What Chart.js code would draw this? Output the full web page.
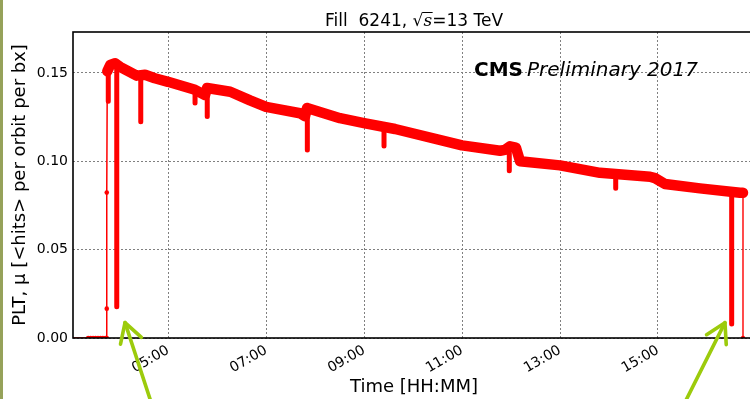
<!DOCTYPE html>
<html>
<head>
<meta charset="utf-8">
<script src="https://cdn.jsdelivr.net/npm/chart.js@4.4.1/dist/chart.umd.min.js"></script>
<style>
  html, body { margin: 0; padding: 0; background: #fff; overflow: hidden; }
  #wrap { width: 759px; height: 399px; }
</style>
</head>
<body>
<div id="wrap"><canvas id="plt-chart" width="759" height="399"></canvas></div>
<script>
// PLT mu vs time for fill 6241, time in decimal hours
const bandTimes = [3.76, 3.82, 3.92, 4.02, 4.36, 4.53, 4.73, 5.0, 5.55, 5.755, 5.796, 6.27, 6.673, 7.0, 7.694, 7.796,
  7.837, 8.51, 9.0, 9.633, 11.0, 11.776, 11.878, 11.98, 12.10, 12.184, 13.0, 13.816, 14.837, 14.939, 15.143,
  15.857, 16.673, 16.735];
const bandValues = [0.151, 0.1545, 0.1555, 0.1535, 0.1485, 0.149, 0.147, 0.145, 0.1405, 0.1375, 0.1415, 0.1394,
  0.1345, 0.1308, 0.1272, 0.1255, 0.1302, 0.1244, 0.1216, 0.1183, 0.109, 0.106, 0.1065, 0.1085, 0.1078, 0.1000,
  0.0977, 0.0935, 0.0913, 0.0905, 0.0872, 0.0847, 0.0822, 0.0822];

// short beam losses / dips
const dipTimes = [3.78, 3.953, 4.443, 5.551, 5.80, 7.843, 9.408, 11.965, 14.137, 16.504];
const dipTops = [0.152, 0.155, 0.149, 0.140, 0.139, 0.128, 0.119, 0.106, 0.0925, 0.082];
const dipBottoms = [0.134, 0.0177, 0.1224, 0.133, 0.1254, 0.1064, 0.1087, 0.0947, 0.0847, 0.0079];

// before stable beams and after the dump
const rampTimes = [3.06, 3.37, 3.42, 3.47, 3.52, 3.57, 3.62, 3.67, 3.72, 3.749, 3.749, 3.749, 3.76];
const rampValues = [0, 0, 0, 0, 0, 0, 0, 0, 0, 0, 0.0166, 0.0823, 0.151];
const dumpTimes = [16.735, 16.735];
const dumpValues = [0.0822, 0];

const xTickValues = [5, 7, 9, 11, 13, 15];
const yTickValues = [0, 0.05, 0.10, 0.15];
const arrowTips = [[4.122, 0.0087], [16.367, 0.0087]];

const toPoints = (xs, ys) => xs.map((x, i) => ({ x: x, y: ys[i] }));

const dipPoints = [];
dipTimes.forEach((t, i) => {
  dipPoints.push({ x: t, y: dipTops[i] }, { x: t, y: dipBottoms[i] }, { x: t, y: null });
});

const hhmm = v => {
  const h = Math.floor(v);
  const m = Math.round((v - h) * 60);
  return String(h).padStart(2, '0') + ':' + String(m).padStart(2, '0');
};

const RED = '#ff0000';
const FONT = '"DejaVu Sans", sans-serif';

const decor = {
  id: 'decor',
  beforeDraw(chart) {
    const ctx = chart.ctx;
    ctx.save();
    ctx.fillStyle = '#fff';
    ctx.fillRect(0, 0, chart.width, chart.height);
    ctx.restore();
  },
  afterDraw(chart) {
    const ctx = chart.ctx;
    const a = chart.chartArea;
    const xs = chart.scales.x, ys = chart.scales.y;
    ctx.save();

    // axes frame
    ctx.strokeStyle = '#000';
    ctx.lineWidth = 1.6;
    ctx.strokeRect(a.left, a.top, a.right - a.left, a.bottom - a.top);

    // title: Fill 6241, sqrt(s)=13 TeV
    ctx.fillStyle = '#000';
    ctx.textBaseline = 'alphabetic';
    ctx.textAlign = 'left';
    const parts = [
      { t: 'Fill  6241, ', f: '17px ' + FONT },
      { t: '\u221A', f: '17px ' + FONT },
      { t: 's', f: 'italic 17px "DejaVu Serif", serif', bar: true },
      { t: '=13 TeV', f: '17px ' + FONT }
    ];
    let total = 0;
    parts.forEach(p => { ctx.font = p.f; p.w = ctx.measureText(p.t).width; total += p.w; });
    let tx = (a.left + a.right) / 2 - total / 2;
    const ty = 26;
    parts.forEach(p => {
      ctx.font = p.f;
      ctx.fillText(p.t, tx, ty);
      if (p.bar) {
        ctx.lineWidth = 1;
        ctx.strokeStyle = '#000';
        ctx.beginPath();
        ctx.moveTo(tx - 1, ty - 13.5);
        ctx.lineTo(tx + p.w + 0.5, ty - 13.5);
        ctx.stroke();
      }
      tx += p.w;
    });

    // CMS Preliminary 2017
    const cx = a.left + (a.right - a.left) * 0.588;
    const cy = a.top + 44;
    ctx.font = 'bold 20px ' + FONT;
    ctx.fillText('CMS', cx, cy);
    const cw = ctx.measureText('CMS').width;
    ctx.font = 'italic 20px ' + FONT;
    ctx.fillText('Preliminary 2017', cx + cw + 4, cy);

    // green arrows pointing at the two big drops
    ctx.strokeStyle = '#9ccb0c';
    ctx.lineWidth = 3.6;
    ctx.lineCap = 'round';
    ctx.lineJoin = 'round';
    const tails = [[0.311, 0.950], [-0.449, 0.894]];
    arrowTips.forEach((tip, i) => {
      const px = xs.getPixelForValue(tip[0]);
      const py = ys.getPixelForValue(tip[1]);
      const d = tails[i];
      ctx.beginPath();
      ctx.moveTo(px, py);
      ctx.lineTo(px + d[0] * 120, py + d[1] * 120);
      ctx.stroke();
      const L = 22, c = Math.cos(Math.PI / 6), s = Math.sin(Math.PI / 6);
      ctx.beginPath();
      ctx.moveTo(px + L * (d[0] * c - d[1] * s), py + L * (d[0] * s + d[1] * c));
      ctx.lineTo(px, py);
      ctx.lineTo(px + L * (d[0] * c + d[1] * s), py + L * (-d[0] * s + d[1] * c));
      ctx.stroke();
    });

    // olive strip on the left edge
    ctx.fillStyle = '#96a25a';
    ctx.fillRect(0, 0, 3, chart.height);
    ctx.restore();
  }
};

const ctx = document.getElementById('plt-chart');
new Chart(ctx, {
  type: 'line',
  data: {
    datasets: [
      {
        label: 'dump',
        data: toPoints(dumpTimes, dumpValues),
        borderColor: RED,
        backgroundColor: RED,
        borderWidth: 1.4,
        pointRadius: c => (c.dataIndex === 1 ? 2.2 : 0),
        pointBorderWidth: 0,
        order: 4
      },
      {
        label: 'ramp',
        data: toPoints(rampTimes, rampValues),
        borderColor: RED,
        backgroundColor: RED,
        borderWidth: 1.5,
        pointRadius: c => (c.dataIndex === 0 || c.dataIndex === rampTimes.length - 1 ? 0 : 2.3),
        pointBorderWidth: 0,
        order: 3
      },
      {
        label: 'dips',
        data: dipPoints,
        borderColor: RED,
        borderWidth: 5,
        borderCapStyle: 'round',
        pointRadius: 0,
        spanGaps: false,
        order: 2
      },
      {
        label: 'PLT',
        data: toPoints(bandTimes, bandValues),
        borderColor: RED,
        borderWidth: 10.5,
        borderCapStyle: 'round',
        borderJoinStyle: 'round',
        pointRadius: 0,
        order: 1
      }
    ]
  },
  options: {
    responsive: false,
    animation: false,
    events: [],
    layout: { padding: { top: 32, right: 4, left: 0, bottom: 0 } },
    plugins: { legend: { display: false }, tooltip: { enabled: false } },
    scales: {
      x: {
        type: 'linear',
        min: 3.06,
        max: 16.98,
        afterBuildTicks: s => { s.ticks = xTickValues.map(v => ({ value: v })); },
        afterFit: s => { s.height = 61; },
        grid: { color: '#808080', lineWidth: 1, drawTicks: false },
        border: { display: false, dash: [2, 2] },
        ticks: {
          autoSkip: false,
          minRotation: 30,
          maxRotation: 30,
          padding: 4,
          color: '#000',
          font: { family: FONT, size: 14 },
          callback: v => hhmm(v)
        },
        title: {
          display: true,
          text: 'Time [HH:MM]',
          color: '#000',
          font: { family: FONT, size: 18 },
          padding: { top: 0, bottom: 1 }
        }
      },
      y: {
        min: 0,
        max: 0.1732,
        afterBuildTicks: s => { s.ticks = yTickValues.map(v => ({ value: v })); },
        afterFit: s => { s.width = 73; },
        grid: { color: '#808080', lineWidth: 1, drawTicks: false },
        border: { display: false, dash: [2, 2] },
        ticks: {
          padding: 5,
          color: '#000',
          font: { family: FONT, size: 14 },
          callback: v => v.toFixed(2)
        },
        title: {
          display: true,
          text: 'PLT, \u03BC [<hits> per orbit per bx]',
          color: '#000',
          font: { family: FONT, size: 18 },
          padding: { top: 10, bottom: 0 }
        }
      }
    }
  },
  plugins: [decor]
});
</script>
</body>
</html>
